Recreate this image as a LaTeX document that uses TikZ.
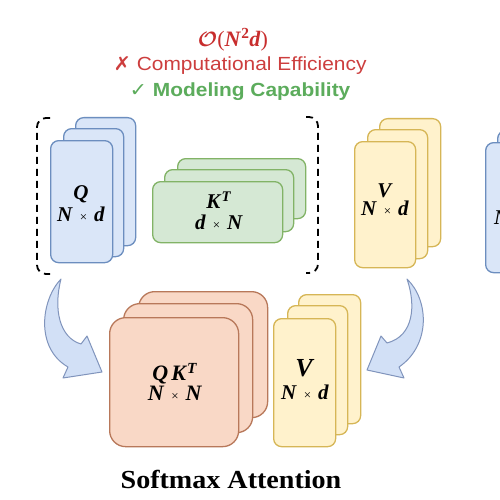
\documentclass[tikz,border=0pt]{standalone}
\usepackage{amsmath}
\usepackage{fontspec}
\setmainfont{Liberation Serif}
\setsansfont{Liberation Sans}
\newfontfamily\symfont{DejaVu Sans}
\definecolor{qfill}{RGB}{218,230,248}
\definecolor{qdraw}{RGB}{108,142,191}
\definecolor{kfill}{RGB}{213,232,212}
\definecolor{kdraw}{RGB}{130,179,102}
\definecolor{vfill}{RGB}{255,242,204}
\definecolor{vdraw}{RGB}{214,182,86}
\definecolor{pfill}{RGB}{249,216,198}
\definecolor{pdraw}{RGB}{184,120,90}
\definecolor{afill}{RGB}{210,224,246}
\definecolor{adraw}{RGB}{128,148,188}
\definecolor{tred}{RGB}{200,45,45}
\definecolor{cred}{RGB}{205,62,62}
\definecolor{cgreen}{RGB}{92,172,92}
\newcommand{\bi}[1]{\textbf{\textit{#1}}}
\newcommand{\tms}{\hspace{7pt}{\fontsize{13}{13}\selectfont ×}\hspace{7pt}}
\tikzset{
  layer/.style={anchor=north west, inner sep=0pt, line width=1.3pt, rounded corners=8pt, align=center},
  qlayer/.style={layer, draw=qdraw, fill=qfill},
  klayer/.style={layer, draw=kdraw, fill=kfill},
  vlayer/.style={layer, draw=vdraw, fill=vfill},
  player/.style={layer, draw=pdraw, fill=pfill, rounded corners=16pt},
  lbl/.style={font=\fontsize{21}{22}\selectfont, align=center, inner sep=0pt},
  bracket/.style={draw=black, line width=1.8pt, dash pattern=on 7pt off 5pt, rounded corners=9pt},
  bigarrow/.style={fill=afill, draw=adraw, line width=1pt, line join=round},
}
\newcommand{\lyr}[7]{\node[#2, minimum width=#5pt, minimum height=#6pt] (#1) at (#3,#4) {#7};}
\begin{document}
\begin{tikzpicture}[x=1pt,y=-1pt]
\clip (0,0) rectangle (500,500);
\fill[white] (0,0) rectangle (500,500);

% titles
\node[text=tred, font=\fontsize{22}{24}\selectfont] (cplx) at (233,40) {$\boldsymbol{\mathcal{O}}$(\bi{N}\textsuperscript{\textbf{2}}\bi{d})};
\node[text=cred, font=\sffamily\fontsize{19}{21}\selectfont, xscale=1.1, transform shape] (eff) at (240,66) {{\symfont ✗} Computational Efficiency};
\node[text=cgreen, font=\sffamily\bfseries\fontsize{19}{21}\selectfont, xscale=1.1, transform shape] (cap) at (240,92) {{\symfont ✓} Modeling Capability};

% Q stack
\lyr{q3}{qlayer}{75}{117}{60}{128}{}
\lyr{q2}{qlayer}{63}{128}{60}{128}{}
\lyr{q1}{qlayer}{50}{140}{62}{122}{}
\node[lbl] (qlab) at (81,204) {\bi{Q}\\[0pt]\bi{N}\tms\bi{d}};

% K^T stack
\lyr{k3}{klayer}{177}{158}{128}{60}{}
\lyr{k2}{klayer}{164}{169}{129}{62}{}
\lyr{k1}{klayer}{152}{181}{130}{61}{}
\node[lbl] (klab) at (219,211) {\bi{K}\textsuperscript{\bi{T}}\\[-1pt]\bi{d}\tms\bi{N}};

% V stack top
\lyr{v3}{vlayer}{379}{118}{61}{128}{}
\lyr{v2}{vlayer}{367}{129}{60}{129}{}
\lyr{v1}{vlayer}{354}{141}{61}{126}{}
\node[lbl] (vlab) at (385,200) {\bi{V}\\[-4pt]\bi{N}\tms\bi{d}};

% partial stack at right edge
\lyr{r3}{qlayer}{510}{119}{62}{128}{}
\lyr{r2}{qlayer}{497}{130}{62}{128}{}
\lyr{r1}{qlayer}{485}{142}{62}{130}{}
\node[lbl] (rlab) at (518,217) {\bi{N}\tms\bi{d}};

% brackets
\coordinate (bl1) at (50,118); \coordinate (bl2) at (37,118);
\coordinate (bl3) at (37,274); \coordinate (bl4) at (50,274);
\coordinate (br1) at (306,117); \coordinate (br2) at (318,117);
\coordinate (br3) at (318,273); \coordinate (br4) at (306,273);
\draw[bracket] (bl1) -- (bl2) -- (bl3) -- (bl4);
\draw[bracket] (br1) -- (br2) -- (br3) -- (br4);

% bottom QK^T stack
\lyr{p3}{player}{138}{291}{129}{126}{}
\lyr{p2}{player}{123}{303}{129}{129}{}
\lyr{p1}{player}{109}{317}{129}{129}{}
\node[lbl, font=\fontsize{22}{23}\selectfont] (plab) at (175,382) {\bi{Q}\hspace{3pt}\bi{K}\textsuperscript{\bi{T}}\\[-3pt]\bi{N}\tms\bi{N}};

% bottom V stack
\lyr{w3}{vlayer}{298}{294}{62}{129}{}
\lyr{w2}{vlayer}{287}{305}{60}{129}{}
\lyr{w1}{vlayer}{273}{318}{62}{128}{}
\node[font=\fontsize{26}{26}\selectfont, inner sep=0pt] (wv) at (305,368) {\bi{V}};
\node[lbl] (wnd) at (305,392) {\bi{N}\tms\bi{d}};

% curved block arrows
\coordinate (lt) at (61,279);
\draw[bigarrow] (lt) .. controls (41,300) and (35,348) .. (68,367) -- (63,378) -- (102,372) -- (87,336) -- (81,344) .. controls (60,338) and (53,310) .. (lt) -- cycle;
\coordinate (rt) at (407,279);
\draw[bigarrow] (rt) .. controls (416,305) and (414,336) .. (387,343) -- (381,336) -- (367,370) -- (404,378) -- (399,367) .. controls (431,345) and (429,300) .. (rt) -- cycle;

% caption
\node[font=\bfseries\fontsize{26}{28}\selectfont, xscale=1.08, transform shape] (cap2) at (231,479) {Softmax Attention};
\end{tikzpicture}
\end{document}
